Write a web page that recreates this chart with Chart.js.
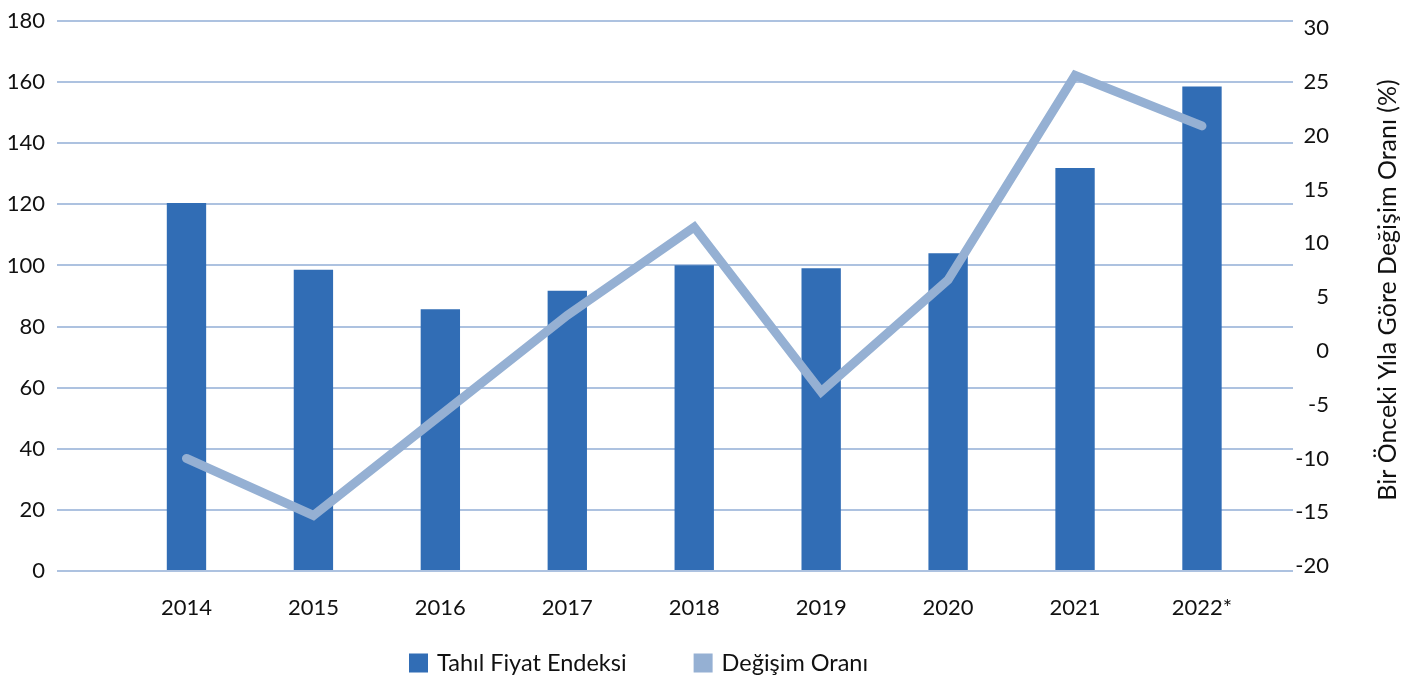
<!DOCTYPE html>
<html>
<head>
<meta charset="utf-8">
<script src="https://cdn.jsdelivr.net/npm/chart.js@4"></script>
<style>
    html, body { margin: 0; padding: 0; background: #fff; }
    #wrap { width: 1415px; height: 680px; }
</style>
</head>
<body>
<div id="wrap"><canvas id="chart" width="1415" height="680"></canvas></div>
<script>
// Yıllar ve seriler
const years = ["2014", "2015", "2016", "2017", "2018", "2019", "2020", "2021", "2022*"];
const indexValues = [120.4, 98.6, 85.7, 91.7, 100.1, 99.1, 104.0, 131.9, 158.6];
const changeValues = [-10.0, -15.3, -6.0, 3.3, 11.5, -3.8, 6.6, 25.6, 20.9];

const leftTicks = [0, 20, 40, 60, 80, 100, 120, 140, 160, 180];
const rightTicks = [-20, -15, -10, -5, 0, 5, 10, 15, 20, 25, 30];

const barColor = "#316db5";
const lineColor = "#95b0d3";
const gridColor = "#adc2e0";
const textColor = "#111111";
const fontFamily = "Lato, 'Noto Sans', sans-serif";

const rightTitle = "Bir Önceki Yıla Göre Değişim Oranı (%)";

// sağ eksen başlığı aşağıdan yukarı okunacak şekilde
const rightTitlePlugin = {
    id: "rightTitle",
    afterDraw(chart) {
        const ctx = chart.ctx;
        const area = chart.chartArea;
        ctx.save();
        ctx.translate(1388, (area.top + area.bottom) / 2 - 6);
        ctx.rotate(-Math.PI / 2);
        ctx.font = "25px " + fontFamily;
        ctx.fillStyle = textColor;
        ctx.textAlign = "center";
        ctx.textBaseline = "middle";
        ctx.fillText(rightTitle, 0, 0);
        ctx.restore();
    },
};

// alttaki lejant: kare + etiket, öğeler arasında geniş boşluk
const bottomLegendPlugin = {
    id: "bottomLegend",
    afterDraw(chart) {
        const ctx = chart.ctx;
        const box = 19;
        const gap = 67;
        const y = 663;
        let x = 409;
        ctx.save();
        ctx.font = "23.5px " + fontFamily;
        ctx.textBaseline = "middle";
        ctx.textAlign = "left";
        chart.data.datasets.forEach((ds) => {
            ctx.fillStyle = ds.backgroundColor;
            ctx.fillRect(x, y - box / 2, box, box);
            x += box + 9;
            ctx.fillStyle = textColor;
            ctx.fillText(ds.label, x, y);
            x += ctx.measureText(ds.label).width + gap;
        });
        ctx.restore();
    },
};

const toPoints = (arr) => arr.map((v, i) => ({ x: i, y: v }));

const ctx = document.getElementById("chart").getContext("2d");

new Chart(ctx, {
    type: "bar",
    data: {
        datasets: [
            {
                label: "Tahıl Fiyat Endeksi",
                data: toPoints(indexValues),
                backgroundColor: barColor,
                borderWidth: 0,
                barPercentage: 0.31,
                categoryPercentage: 1,
                yAxisID: "y",
                order: 2,
            },
            {
                type: "line",
                label: "Değişim Oranı",
                data: toPoints(changeValues),
                borderColor: lineColor,
                backgroundColor: lineColor,
                borderWidth: 9,
                borderCapStyle: "round",
                borderJoinStyle: "miter",
                pointRadius: 0,
                tension: 0,
                yAxisID: "y1",
                order: 1,
            },
        ],
    },
    options: {
        responsive: false,
        animation: false,
        layout: { padding: { top: 21, left: 0, right: 86, bottom: 59 } },
        plugins: {
            tooltip: { enabled: false },
            legend: { display: false },
        },
        scales: {
            x: {
                type: "linear",
                offset: false,
                min: -1.02,
                max: 8.717,
                grid: { display: false, drawTicks: false },
                border: { display: false },
                afterBuildTicks: (scale) => {
                    scale.ticks = years.map((y, i) => ({ value: i }));
                },
                afterFit: (scale) => {
                    scale.height = 50;
                },
                ticks: {
                    padding: 24,
                    color: textColor,
                    font: { family: fontFamily, size: 22 },
                    maxRotation: 0,
                    autoSkip: false,
                    callback: (value) => years[value] ?? "",
                },
            },
            y: {
                position: "left",
                min: 0,
                max: 180,
                afterBuildTicks: (scale) => {
                    scale.ticks = leftTicks.map((v) => ({ value: v }));
                },
                afterFit: (scale) => {
                    scale.width = 57;
                },
                grid: { color: gridColor, lineWidth: 2, drawTicks: false },
                border: { display: false },
                ticks: {
                    padding: 12,
                    color: textColor,
                    font: { family: fontFamily, size: 22, lineHeight: 0.8 },
                },
            },
            y1: {
                position: "right",
                min: -20.46,
                max: 30.65,
                afterBuildTicks: (scale) => {
                    scale.ticks = rightTicks.map((v) => ({ value: v }));
                },
                afterFit: (scale) => {
                    scale.width = 36;
                },
                grid: { display: false, drawTicks: false },
                border: { display: false },
                ticks: {
                    padding: 2,
                    crossAlign: "far",
                    color: textColor,
                    font: { family: fontFamily, size: 22, lineHeight: 0.8 },
                },
            },
        },
    },
    plugins: [rightTitlePlugin, bottomLegendPlugin],
});
</script>
</body>
</html>
